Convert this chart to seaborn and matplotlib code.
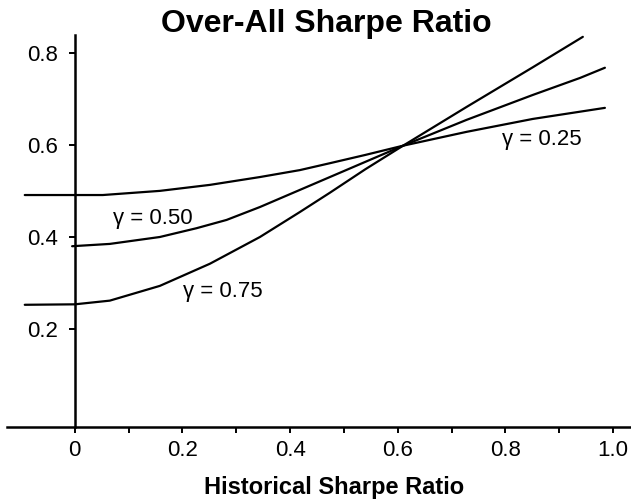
import numpy as np
import pandas as pd
import matplotlib.pyplot as plt
import seaborn as sns

# values
x_g25 = [-0.093, 0.052, 0.158, 0.251, 0.344, 0.418, 0.474, 0.54, 0.61, 0.728, 0.851, 0.985]
y_g25 = [0.491, 0.491, 0.500, 0.513, 0.530, 0.545, 0.560, 0.578, 0.598, 0.628, 0.656, 0.680]

x_g50 = [-0.005, 0.065, 0.158, 0.226, 0.282, 0.344, 0.418, 0.474, 0.54, 0.61, 0.728, 0.851, 0.939, 0.985]
y_g50 = [0.380, 0.385, 0.400, 0.419, 0.437, 0.465, 0.502, 0.530, 0.563, 0.598, 0.654, 0.708, 0.745, 0.767]

x_g75 = [-0.093, 0.0, 0.065, 0.158, 0.251, 0.344, 0.418, 0.474, 0.54, 0.61, 0.728, 0.851, 0.944]
y_g75 = [0.253, 0.254, 0.262, 0.294, 0.342, 0.400, 0.454, 0.496, 0.547, 0.598, 0.682, 0.768, 0.834]

x_ticks = [0, 0.2, 0.4, 0.6, 0.8, 1.0]
x_tick_labels = ['0', '0.2', '0.4', '0.6', '0.8', '1.0']
x_minor = [0.1, 0.3, 0.5, 0.7, 0.9]
y_ticks = [0.2, 0.4, 0.6, 0.8]
y_tick_labels = ['0.2', '0.4', '0.6', '0.8']

curve_labels = ['\u03b3 = 0.25', '\u03b3 = 0.50', '\u03b3 = 0.75']

sns.set_theme(style='white')
plt.rcParams['font.family'] = ['Liberation Sans', 'DejaVu Sans']
plt.rcParams['text.color'] = 'black'

W, H = 631, 501
fig = plt.figure(figsize=(W / 100, H / 100), dpi=100)
ax = fig.add_axes([7 / W, 74 / H, 624 / W, 392 / H])

for xs, ys in [(x_g25, y_g25), (x_g50, y_g50), (x_g75, y_g75)]:
    sns.lineplot(x=xs, y=ys, color='black', linewidth=1.6, sort=False, ax=ax)

ax.set_xlim(-0.126, 1.0335)
ax.set_ylim(-0.012, 0.838)

# axis lines crossing at the origin, no box
ax.spines['top'].set_visible(False)
ax.spines['right'].set_visible(False)
ax.spines['left'].set_position(('data', 0))
for s in ['left', 'bottom']:
    ax.spines[s].set_linewidth(1.8)
    ax.spines[s].set_color('black')

ax.set_xticks(x_ticks)
ax.set_xticklabels(x_tick_labels)
ax.set_xticks(x_minor, minor=True)
ax.set_yticks(y_ticks)
ax.set_yticklabels(y_tick_labels)
ax.tick_params(axis='both', which='both', direction='out', length=4.3, width=1.4,
               color='black', labelsize=16, labelcolor='black')
ax.tick_params(axis='x', which='both', bottom=True, pad=5)
ax.tick_params(axis='y', which='both', left=True, pad=8)
ax.grid(False)

# curve labels
ax.text(0.794, 0.612, curve_labels[0], fontsize=16, ha='left', va='center')
ax.text(0.071, 0.441, curve_labels[1], fontsize=16, ha='left', va='center')
ax.text(0.201, 0.281, curve_labels[2], fontsize=16, ha='left', va='center')

fig.text(326 / W, 1 - 32 / H, 'Over-All Sharpe Ratio', fontsize=23, fontweight='bold',
         ha='center', va='baseline')
fig.text(334 / W, 1 - 494 / H, 'Historical Sharpe Ratio', fontsize=17, fontweight='bold',
         ha='center', va='baseline')

fig.savefig('out.png', dpi=100)
